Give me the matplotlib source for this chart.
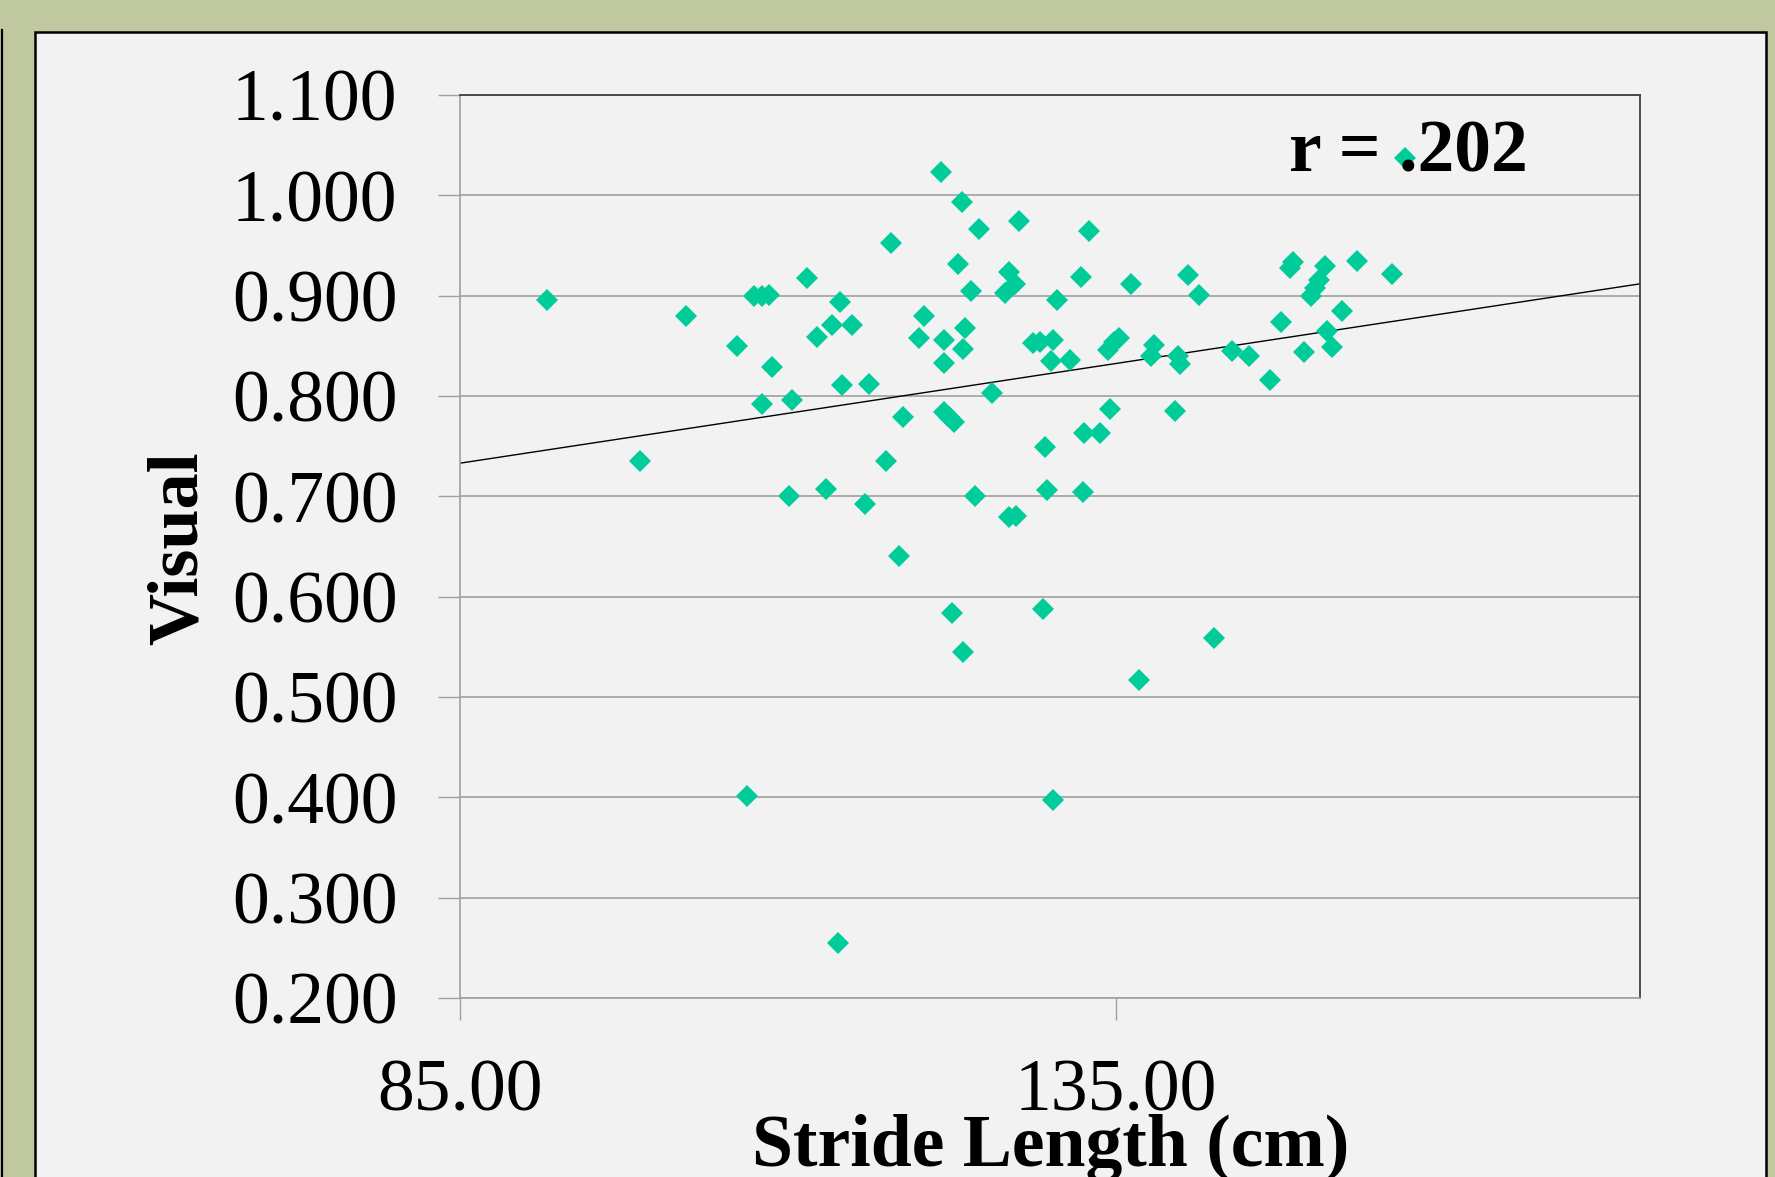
#!/usr/bin/env python3
"""Scatter of visual score against stride length, with linear trendline."""

import matplotlib

matplotlib.use("Agg")
import matplotlib.pyplot as plt
import numpy as np
from matplotlib.lines import Line2D
from matplotlib.patches import Rectangle

stride_cm = [
    91.6, 98.7, 102.2, 106.1, 106.9, 107.4, 108.0, 108.6, 108.0, 108.8,
    110.1, 110.3, 111.5, 112.2, 112.9, 113.4, 114.0, 114.1, 113.85, 114.9,
    115.9, 116.2, 117.5, 117.9, 118.5, 118.8, 120.0, 120.4, 121.7, 121.9,
    121.9, 121.9, 122.3, 122.7, 122.5, 123.0, 123.3, 123.5, 123.4, 123.4,
    124.0, 124.3, 124.6, 125.6, 126.6, 126.9, 127.3, 126.9, 127.4, 127.6,
    128.7, 129.2, 129.6, 129.5, 129.8, 130.1, 130.2, 130.5, 130.2, 131.5,
    132.4, 132.5, 132.6, 133.0, 133.8, 134.4, 134.9, 135.3, 134.6, 136.2,
    136.8, 137.7, 137.9, 139.5, 139.8, 139.9, 140.5, 141.4, 142.5, 143.9,
    145.2, 146.8, 147.6, 148.3, 148.5, 149.4, 149.9, 150.2, 150.5, 151.0,
    151.1, 151.5, 152.3, 153.4, 156.1, 157.1,
]
visual = [
    0.896, 0.735, 0.880, 0.850, 0.401, 0.900, 0.900, 0.901, 0.792, 0.829,
    0.700, 0.796, 0.918, 0.859, 0.707, 0.871, 0.894, 0.811, 0.255, 0.871,
    0.692, 0.812, 0.735, 0.952, 0.641, 0.779, 0.858, 0.880, 1.023, 0.856,
    0.833, 0.784, 0.779, 0.774, 0.584, 0.932, 0.993, 0.868, 0.847, 0.545,
    0.905, 0.700, 0.966, 0.803, 0.903, 0.924, 0.912, 0.679, 0.680, 0.974,
    0.853, 0.854, 0.749, 0.588, 0.706, 0.835, 0.856, 0.896, 0.397, 0.836,
    0.919, 0.704, 0.763, 0.964, 0.763, 0.846, 0.854, 0.858, 0.787, 0.912,
    0.517, 0.840, 0.851, 0.785, 0.840, 0.832, 0.921, 0.901, 0.559, 0.845,
    0.840, 0.816, 0.874, 0.928, 0.934, 0.844, 0.900, 0.908, 0.916, 0.930,
    0.865, 0.849, 0.885, 0.935, 0.922, 1.037,
]
x_ticks = [85, 135]
y_ticks = [0.2, 0.3, 0.4, 0.5, 0.6, 0.7, 0.8, 0.9, 1.0, 1.1]
r_label = "r = .202"

W, H = 1775, 1177
GREEN = "#C0C8A0"
PANEL = "#F2F2F2"
TEAL = "#00CC99"
GRID = "#A0A0A0"


def main() -> None:
    plt.rcParams["font.family"] = ["Liberation Serif", "DejaVu Serif"]
    fig = plt.figure(figsize=(W / 100, H / 100), dpi=100, facecolor=GREEN)

    # light panel with black border, and the edge of the neighbouring panel
    fig.patches.append(
        Rectangle((35 / W, -0.05), (1766 - 35) / W, 1.05 - 32 / H,
                  transform=fig.transFigure, facecolor=PANEL,
                  edgecolor="black", linewidth=1.8, zorder=-2)
    )
    fig.lines.append(
        Line2D([2 / W, 2 / W], [-0.05, 1 - 30 / H], transform=fig.transFigure,
               color="black", linewidth=1.6, zorder=-1)
    )

    left, right, top, bottom = 460, 1640, 95, 998
    ax = fig.add_axes([left / W, 1 - bottom / H, (right - left) / W, (bottom - top) / H])
    ax.set_zorder(1)
    ax.set_facecolor(PANEL)
    ax.set_xlim(85, 175)
    ax.set_ylim(0.2, 1.1)

    ax.set_yticks(y_ticks)
    ax.set_yticklabels([f"{v:.3f}" for v in y_ticks])
    ax.set_xticks(x_ticks)
    ax.set_xticklabels([f"{v:.2f}" for v in x_ticks])
    ax.tick_params(axis="both", direction="out", length=16, width=1.0,
                   color=GRID, labelsize=53)
    ax.tick_params(axis="y", pad=29)
    ax.tick_params(axis="x", pad=28)
    ax.grid(axis="y", color=GRID, linewidth=1.2)
    ax.set_axisbelow(True)
    for side in ("left", "bottom"):
        ax.spines[side].set_color(GRID)
        ax.spines[side].set_linewidth(1.2)
    for side in ("top", "right"):
        ax.spines[side].set_color("#404040")
        ax.spines[side].set_linewidth(1.3)

    ax.plot(stride_cm, visual, linestyle="none", marker="D", markersize=11,
            color=TEAL, markeredgewidth=0, zorder=3)

    slope, intercept = np.polyfit(stride_cm, visual, 1)
    xs = np.array(ax.get_xlim())
    ax.plot(xs, slope * xs + intercept, color="black", linewidth=1.0, zorder=2)

    ax.text(148.2, 1.024, r_label, fontsize=53, fontweight="bold",
            ha="left", va="baseline", zorder=4)

    fig.text(179 / W, 1 - 548 / H, "Visual", rotation=90, fontsize=52,
             fontweight="bold", ha="center", va="center", zorder=2)
    fig.text(1051 / W, 1 - 1166 / H, "Stride Length (cm)", fontsize=53,
             fontweight="bold", ha="center", va="baseline", zorder=2)

    fig.savefig("out.png", dpi=100, facecolor=GREEN)
    plt.close(fig)


if __name__ == "__main__":
    main()
